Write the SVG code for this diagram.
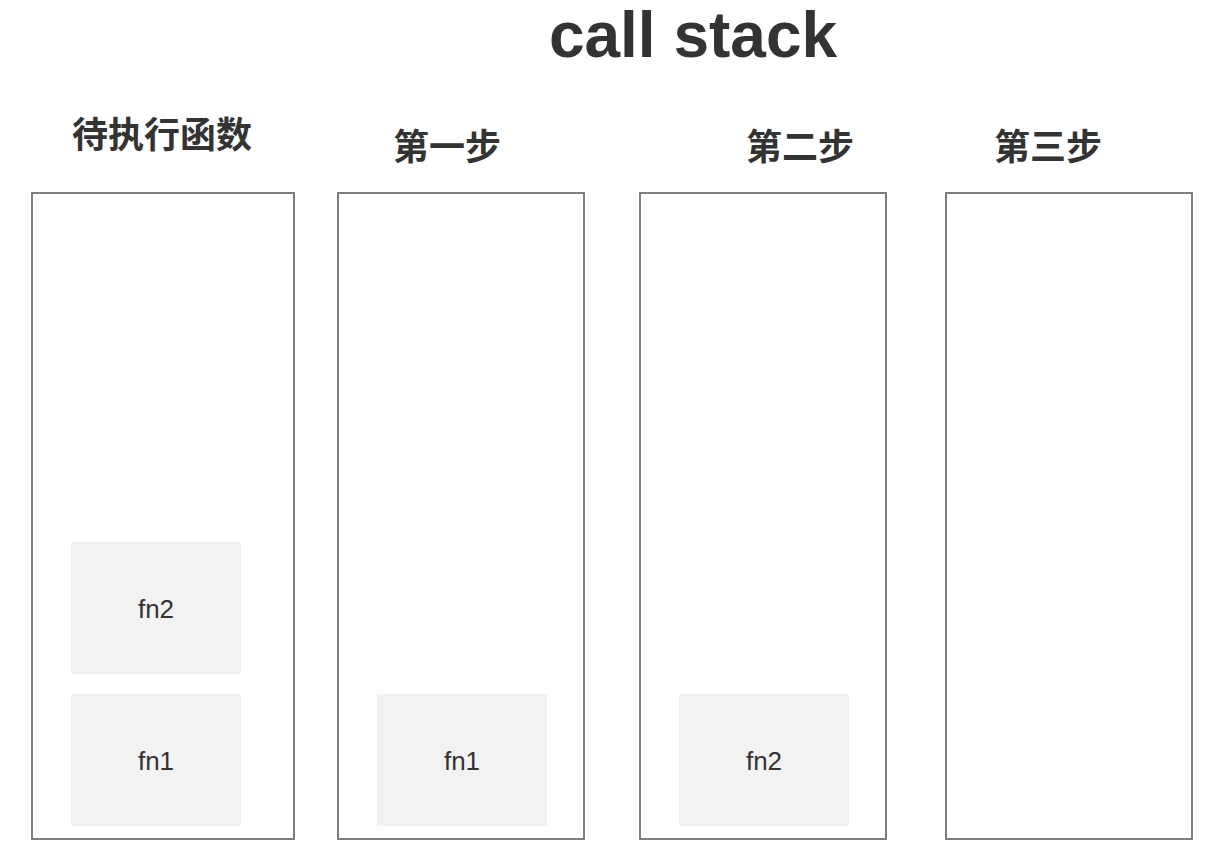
<svg xmlns="http://www.w3.org/2000/svg" width="1216" height="868" viewBox="0 0 1216 868">
<style>
.title{font-family:"Liberation Sans",Arial,sans-serif;font-weight:bold;font-size:64px;fill:#333;text-anchor:middle}
.hdr{font-family:"Noto Sans CJK SC","Noto Sans",sans-serif;font-weight:bold;font-size:36px;fill:#333;text-anchor:middle}
.stack{fill:#fff;stroke:#7f7f7f;stroke-width:2}
.fn{fill:#f2f2f2;stroke:none}
.fnt{font-family:"Liberation Sans",Arial,sans-serif;font-size:26px;fill:#333;text-anchor:middle}
</style>
<rect width="1216" height="868" fill="#fff"/>
<text class="title" x="693" y="57">call stack</text>
<g id="col0">
<text class="hdr" x="162" y="148">待执行函数</text>
<rect class="stack" x="32" y="193" width="262" height="646"/>
<g id="col0-fn2"><rect class="fn" x="71" y="542" width="170" height="132"/><text class="fnt" x="156" y="618">fn2</text></g>
<g id="col0-fn1"><rect class="fn" x="71" y="694" width="170" height="132"/><text class="fnt" x="156" y="770">fn1</text></g>
</g>
<g id="col1">
<text class="hdr" x="447" y="160">第一步</text>
<rect class="stack" x="338" y="193" width="246" height="646"/>
<g id="col1-fn1"><rect class="fn" x="377" y="694" width="170" height="132"/><text class="fnt" x="462" y="770">fn1</text></g>
</g>
<g id="col2">
<text class="hdr" x="800" y="160">第二步</text>
<rect class="stack" x="640" y="193" width="246" height="646"/>
<g id="col2-fn2"><rect class="fn" x="679" y="694" width="170" height="132"/><text class="fnt" x="764" y="770">fn2</text></g>
</g>
<g id="col3">
<text class="hdr" x="1048" y="160">第三步</text>
<rect class="stack" x="946" y="193" width="246" height="646"/>
</g>
<g id="connectors"></g>
</svg>
